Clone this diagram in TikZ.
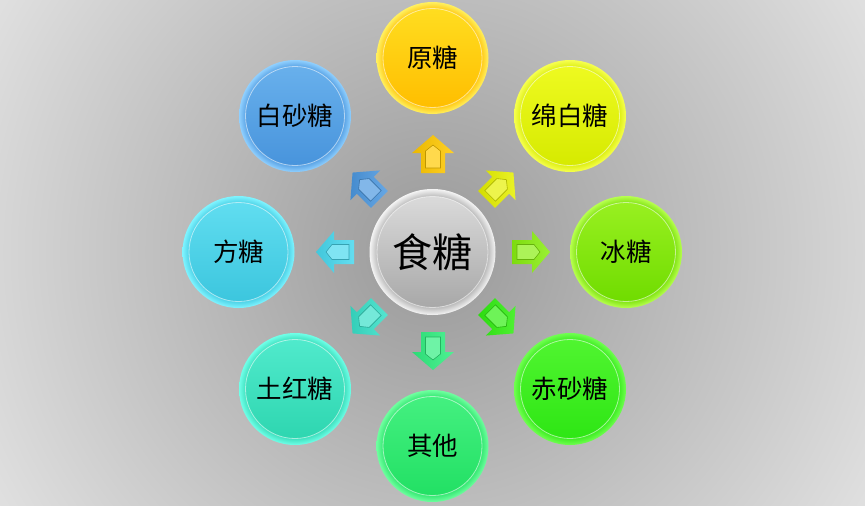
\documentclass[tikz,border=0pt]{standalone}
\usepackage{fontspec}
\newfontfamily\cjk{Noto Sans CJK SC}
\definecolor{basec}{HTML}{FFC000}
\definecolor{rimc}{HTML}{FFF040}
\pgfdeclareradialshading[rimc,basec]{rimshade}{\pgfpoint{0bp}{0bp}}{color(0bp)=(basec); color(21bp)=(basec); color(25bp)=(rimc); color(50bp)=(rimc)}
% disc colours: base, rim, top
\definecolor{yuanB}{HTML}{FFBE00}\definecolor{yuanR}{HTML}{FFF060}\definecolor{yuanT}{HTML}{FFDD20}
\definecolor{mianB}{HTML}{D6EA00}\definecolor{mianR}{HTML}{F6FF50}\definecolor{mianT}{HTML}{EEFA20}
\definecolor{bingB}{HTML}{70DC00}\definecolor{bingR}{HTML}{B8FF50}\definecolor{bingT}{HTML}{98F020}
\definecolor{chiB}{HTML}{2EE614}\definecolor{chiR}{HTML}{70FF50}\definecolor{chiT}{HTML}{50F530}
\definecolor{qiB}{HTML}{22E064}\definecolor{qiR}{HTML}{70FFA0}\definecolor{qiT}{HTML}{44F080}
\definecolor{tuB}{HTML}{2ED6B0}\definecolor{tuR}{HTML}{70FFE8}\definecolor{tuT}{HTML}{50EACC}
\definecolor{fangB}{HTML}{3CC6DE}\definecolor{fangR}{HTML}{80F4FF}\definecolor{fangT}{HTML}{60DDF0}
\definecolor{baiB}{HTML}{4894DC}\definecolor{baiR}{HTML}{90D0FF}\definecolor{baiT}{HTML}{68B0EC}
\definecolor{grayB}{HTML}{A8A8A8}\definecolor{grayR}{HTML}{F4F4F4}\definecolor{grayT}{HTML}{DADADA}
% arrow colours
\definecolor{aUp}{HTML}{FFC800}
\definecolor{aUR}{HTML}{E6F000}
\definecolor{aR}{HTML}{88EE10}
\definecolor{aDR}{HTML}{30EE10}
\definecolor{aD}{HTML}{30EE80}
\definecolor{aDL}{HTML}{38E0C8}
\definecolor{aL}{HTML}{48D8EE}
\definecolor{aUL}{HTML}{4C98E0}
\tikzset{
  outerdisc/.style={circle, inner sep=0pt, minimum size=#1, shading=rimshade},
  innerdisc/.style={circle, inner sep=0pt, minimum size=#1, draw=white, draw opacity=0.55, line width=0.8pt},
  lab/.style={font=\cjk\fontsize{25.5}{25.5}\selectfont, text=black},
  biglab/.style={font=\cjk\fontsize{40}{40}\selectfont, text=black},
}
\newcommand\sugarball[5]{%
  \colorlet{basec}{#3B}\colorlet{rimc}{#3R}%
  \node[outerdisc=112pt] (#1o) at (#2) {};
  \node[innerdisc=99pt, top color=#3T, bottom color=#3B, lab] (#1) at (#2) {#4};
}
\newcommand\blockarr[4]{%
  \begin{scope}[shift={(#2)}, rotate=#3]
    \coordinate (#1) at (0,0);
    \shade[left color=#4!92!black, right color=#4!85!white]
      (-19,-12) -- (1,-12) -- (1,-21) -- (19,0) -- (1,21) -- (1,12) -- (-19,12) -- cycle;
    \draw[draw=#4!75!black, fill=#4!70!white, line width=0.6pt]
      (-14,-7.5) -- (3,-7.5) -- (9,0) -- (3,7.5) -- (-14,7.5) -- cycle;
  \end{scope}
}
\begin{document}
\begin{tikzpicture}[x=1pt, y=-1pt]
\useasboundingbox (0,0) rectangle (865,506);
\begin{scope}
  \clip (0,0) rectangle (865,506);
  \fill[gray!20] (0,0) rectangle (865,506);
  \shade[inner color=black!40, outer color=black!11] (432.5,252) circle (525);
\end{scope}

% central disc
\colorlet{basec}{grayB}\colorlet{rimc}{grayR}
\node[outerdisc=126pt] (centero) at (432.5,252) {};
\node[innerdisc=111pt, top color=grayT, bottom color=grayB, biglab] (center) at (432.5,252) {食糖};

% outer discs
\sugarball{yuan}{432.5,58}{yuan}{原糖}{}
\sugarball{mian}{570,116}{mian}{绵白糖}{}
\sugarball{bing}{626,252}{bing}{冰糖}{}
\sugarball{chi}{570,389}{chi}{赤砂糖}{}
\sugarball{qi}{432.5,446}{qi}{其他}{}
\sugarball{tu}{295,389}{tu}{土红糖}{}
\sugarball{fang}{238.5,252}{fang}{方糖}{}
\sugarball{bai}{295,116}{bai}{白砂糖}{}

% block arrows
\blockarr{arUp}{433,154}{90}{aUp}
\blockarr{arUR}{500,186}{45}{aUR}
\blockarr{arR}{531,252}{0}{aR}
\blockarr{arDR}{500,320}{-45}{aDR}
\blockarr{arD}{433,351}{-90}{aD}
\blockarr{arDL}{366,320}{-135}{aDL}
\blockarr{arL}{335,252}{180}{aL}
\blockarr{arUL}{366,186}{135}{aUL}
\end{tikzpicture}
\end{document}
